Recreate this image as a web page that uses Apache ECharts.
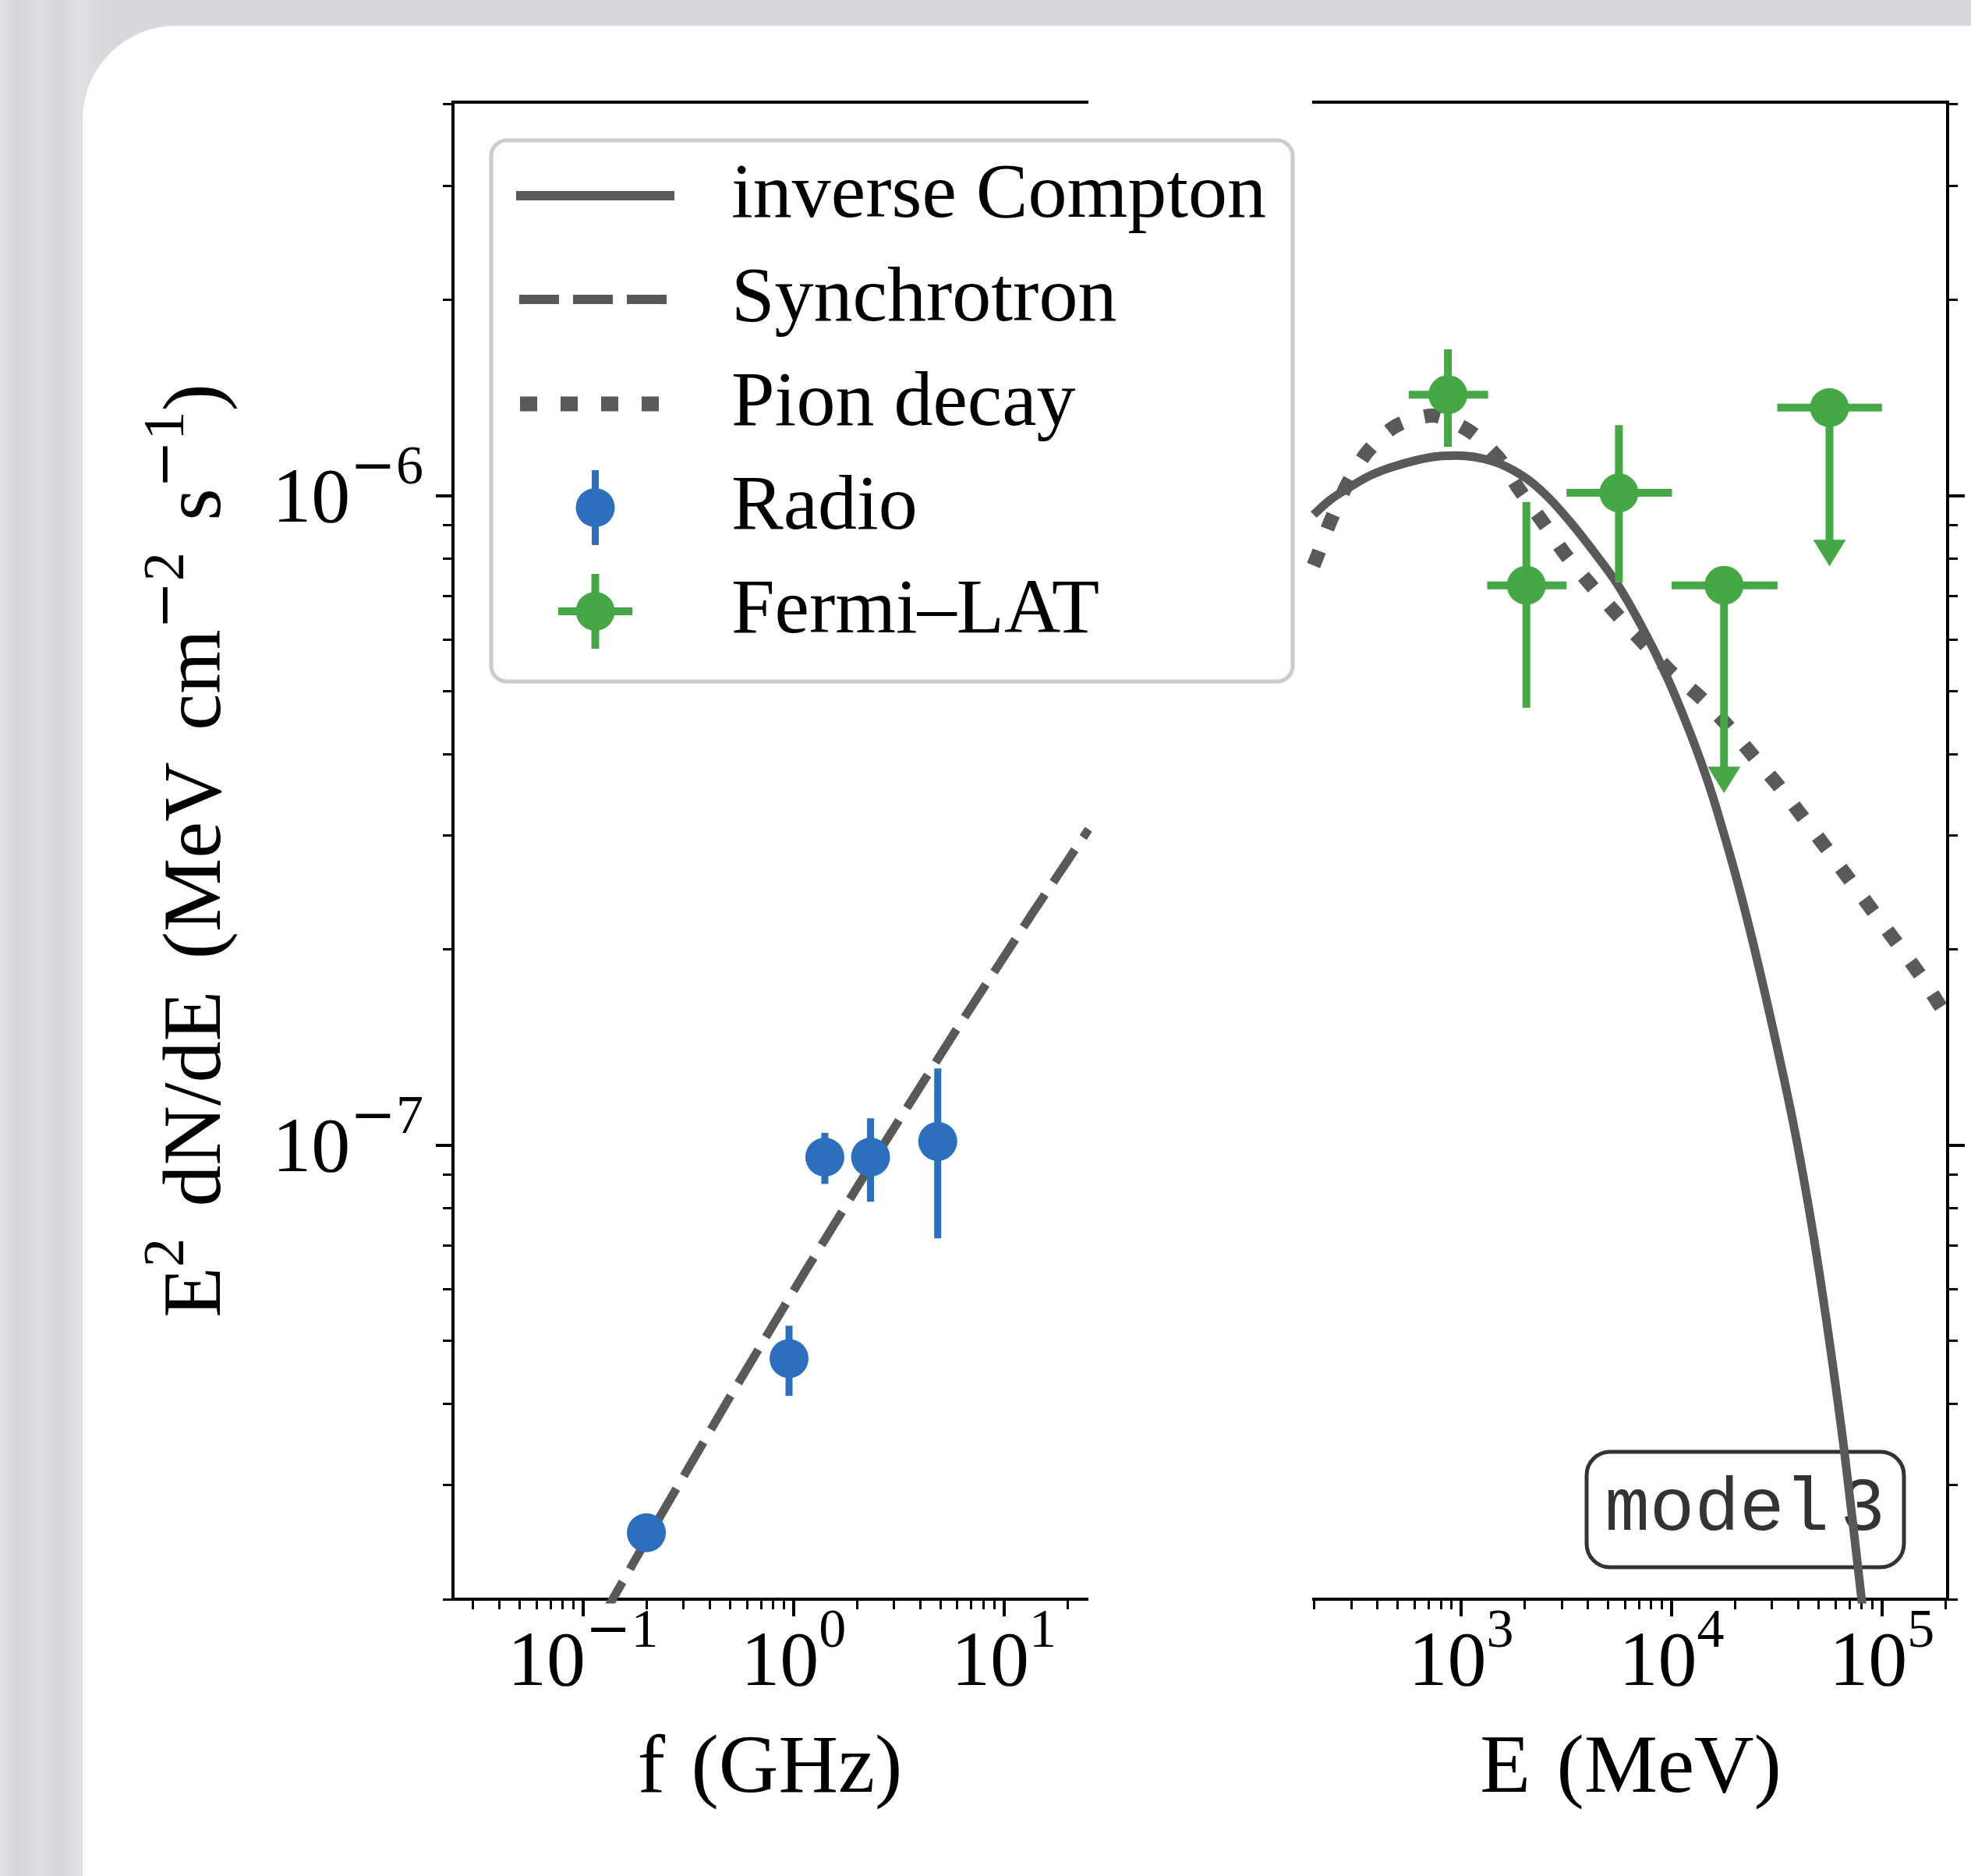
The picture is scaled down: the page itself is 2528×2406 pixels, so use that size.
<!DOCTYPE html>
<html>
<head>
<meta charset="utf-8">
<title>model 3</title>
<script src="https://cdn.jsdelivr.net/npm/echarts@6/dist/echarts.min.js"></script>
<style>
  html, body { margin: 0; padding: 0; width: 2528px; height: 2406px; overflow: hidden; }
  body {
    position: relative;
    background-color: #dadadc;
    background-image: linear-gradient(90deg, #e3e3e5 0px, #d4d4d6 22px, #dfdfe1 48px, #d6d6d8 75px, #e1e1e3 100px, #d8d8da 140px);
  }
  #card { position: absolute; left: 106px; top: 33px; width: 2700px; height: 2600px; background: #ffffff; border-radius: 120px; }
  #main { position: absolute; left: 0; top: 0; width: 2528px; height: 2406px; }
</style>
</head>
<body>
<div id="card"></div>
<div id="main"></div>
<script>
// radio points: frequency (GHz), E^2 dN/dE with error bar ends
var radioFreq = [0.2, 0.953, 1.41, 2.325, 4.85];
var radioFlux = [2.53e-8, 4.69e-8, 9.58e-8, 9.58e-8, 1.013e-7];
var radioFluxLow = [2.47e-8, 4.11e-8, 8.71e-8, 8.18e-8, 7.18e-8];
var radioFluxHigh = [2.59e-8, 5.27e-8, 1.044e-7, 1.099e-7, 1.312e-7];

// Fermi-LAT bins: energy (MeV), bin edges, flux and error ends (last two are upper limits)
var fermiE = [866, 2043, 5623, 17760, 56300];
var fermiELow = [564, 1331, 3170, 10000, 31800];
var fermiEHigh = [1344, 3171, 10050, 31900, 100000];
var fermiFlux = [1.429e-6, 7.27e-7, 1.009e-6, 7.27e-7, 1.365e-6];
var fermiFluxLow = [1.188e-6, 4.71e-7, 7.34e-7, 3.48e-7, 7.78e-7];
var fermiFluxHigh = [1.678e-6, 9.77e-7, 1.283e-6, 7.27e-7, 1.365e-6];
var fermiUpperLimit = [0, 0, 0, 1, 1];

// model curves
var synchFreq = [0.1247, 0.2162, 0.4936, 1.127, 2.575, 5.879, 13.43, 25.28];
var synchFlux = [1.885e-8, 2.574e-8, 4.069e-8, 6.356e-8, 9.81e-8, 1.496e-7, 2.254e-7, 3.062e-7];
var icEnergy = [199.3, 238.3, 288.8, 369.9, 486.8, 715.2, 954.1, 1402, 1950, 2531, 3285, 4267, 5539, 7192, 9466, 11470, 13720, 16180, 21290, 28020, 37910, 47230, 56470, 66580, 80060, 86460];
var icFlux = [9.338e-7, 9.836e-7, 1.0244e-6, 1.0729e-6, 1.1097e-6, 1.1444e-6, 1.1516e-6, 1.1293e-6, 1.0729e-6, 1.0013e-6, 9.12e-7, 8.193e-7, 7.295e-7, 6.297e-7, 5.27e-7, 4.55e-7, 3.909e-7, 3.331e-7, 2.438e-7, 1.692e-7, 1.0788e-7, 7.256e-8, 4.944e-8, 3.326e-8, 1.994e-8, 1.608e-8];
var pionEnergy = [199, 207, 239, 289, 358, 489, 733, 1099, 1500, 1905, 2474, 3141, 4179, 5570, 7413, 9877, 13790, 18820, 24430, 32540, 42260, 54950, 70850, 91600, 118400, 152900, 190500, 206000];
var pionFlux = [7.8e-7, 8.05e-7, 9.11e-7, 1.043e-6, 1.166e-6, 1.279e-6, 1.327e-6, 1.255e-6, 1.144e-6, 1.017e-6, 9.05e-7, 8.10e-7, 7.25e-7, 6.53e-7, 5.91e-7, 5.36e-7, 4.88e-7, 4.39e-7, 3.97e-7, 3.56e-7, 3.19e-7, 2.85e-7, 2.55e-7, 2.28e-7, 2.04e-7, 1.82e-7, 1.63e-7, 1.57e-7];

// ticks
var freqMajor = [0.1, 1, 10];
var freqMinor = [0.03, 0.04, 0.05, 0.06, 0.07, 0.08, 0.09, 0.2, 0.3, 0.4, 0.5, 0.6, 0.7, 0.8, 0.9, 2, 3, 4, 5, 6, 7, 8, 9, 20];
var energyMajor = [1e3, 1e4, 1e5];
var energyMinor = [200, 300, 400, 500, 600, 700, 800, 900, 2000, 3000, 4000, 5000, 6000, 7000, 8000, 9000, 2e4, 3e4, 4e4, 5e4, 6e4, 7e4, 8e4, 9e4, 2e5];
var fluxMajor = [1e-7, 1e-6];
var fluxMinor = [2e-8, 3e-8, 4e-8, 5e-8, 6e-8, 7e-8, 8e-8, 9e-8, 2e-7, 3e-7, 4e-7, 5e-7, 6e-7, 7e-7, 8e-7, 9e-7, 2e-6, 3e-6, 4e-6];

var legendNames = ['inverse Compton', 'Synchrotron', 'Pion decay', 'Radio', 'Fermi\u2013LAT'];

var serif = '"Liberation Serif", "DejaVu Serif", serif';
var wideMinus = '"DejaVu Serif", serif';
var ink = '#000000';
var curveGray = '#595959';
var radioBlue = '#2d6ebd';
var fermiGreen = '#45a745';

var myChart = echarts.init(document.getElementById('main'), null, { renderer: 'canvas' });

// 10^n label as rich text
function powLabel(v) {
  var e = Math.round(Math.log10(v));
  if (e < 0) {
    return '{b|10}{m|\u2212}{s|' + (-e) + '}';
  }
  return '{b|10}{s|' + e + '}';
}

var tickRich = {
  b: { fontFamily: serif, fontSize: 100, color: ink, padding: [26, 0, 0, 0] },
  m: { fontFamily: wideMinus, fontSize: 70, color: ink, verticalAlign: 'top' },
  s: { fontFamily: serif, fontSize: 70, color: ink, verticalAlign: 'top' }
};

function logAxis(o) {
  return {
    type: 'log',
    logBase: 10,
    gridIndex: o.grid,
    position: o.pos,
    min: o.min,
    max: o.max,
    silent: true,
    axisLine: { show: !!o.line, onZero: false, lineStyle: { color: ink, width: 4, cap: 'square' } },
    axisTick: { show: !!o.ticks, inside: false, length: o.len || 22, customValues: o.ticks, lineStyle: { color: ink, width: o.tw || 4 } },
    axisLabel: { show: !!o.labels, customValues: o.labels, margin: o.margin || 8, padding: o.pad || 0, formatter: powLabel, rich: tickRich },
    splitLine: { show: false },
    minorTick: { show: false },
    minorSplitLine: { show: false }
  };
}

var fMin = 0.0241, fMax = 24.8;
var eMin = 199.5, eMax = 2.05e5;
var yMin = 1.999e-8, yMax = 4.03e-6;

// axes: 0-2 for left panel, 3-5 for right panel
var xAxes = [
  logAxis({ grid: 0, pos: 'bottom', min: fMin, max: fMax, line: true, ticks: freqMajor, labels: freqMajor, margin: 8 }),
  logAxis({ grid: 0, pos: 'bottom', min: fMin, max: fMax, ticks: freqMinor, len: 13, tw: 3 }),
  logAxis({ grid: 0, pos: 'top', min: fMin, max: fMax, line: true }),
  logAxis({ grid: 1, pos: 'bottom', min: eMin, max: eMax, line: true, ticks: energyMajor, labels: energyMajor, margin: 8 }),
  logAxis({ grid: 1, pos: 'bottom', min: eMin, max: eMax, ticks: energyMinor, len: 13, tw: 3 }),
  logAxis({ grid: 1, pos: 'top', min: eMin, max: eMax, line: true })
];
var nameRich = {
  n: { fontFamily: serif, fontSize: 106, color: ink },
  g: { fontFamily: serif, fontSize: 106, color: ink, padding: [0, 0, 0, 7] }
};
xAxes[0].name = '{n|f}{g| (GHz)}';
xAxes[3].name = '{n|E}{g| (MeV)}';
[0, 3].forEach(function (i) {
  xAxes[i].nameLocation = 'middle';
  xAxes[i].nameGap = 166;
  xAxes[i].nameMoveOverlap = false;
  xAxes[i].nameTextStyle = { rich: nameRich };
});

var yAxes = [
  logAxis({ grid: 0, pos: 'left', min: yMin, max: yMax, line: true, ticks: fluxMajor, labels: fluxMajor, margin: 38, pad: [0, 0, 12, 0] }),
  logAxis({ grid: 0, pos: 'left', min: yMin, max: yMax, ticks: fluxMinor, len: 13, tw: 3 }),
  logAxis({ grid: 1, pos: 'right', min: yMin, max: yMax, line: true, ticks: fluxMajor }),
  logAxis({ grid: 1, pos: 'right', min: yMin, max: yMax, ticks: fluxMinor, len: 13, tw: 3 })
];
yAxes[0].name = '{t|E}{s|2}{g| dN/dE}{g| (MeV}{g| cm}{m|\u2212}{s|2}{g| s}{m|\u2212}{s|1}{t|)}';
yAxes[0].nameLocation = 'middle';
yAxes[0].nameRotate = 90;
yAxes[0].nameGap = 274;
yAxes[0].nameMoveOverlap = false;
yAxes[0].nameTextStyle = {
  rich: {
    t: { fontFamily: serif, fontSize: 106, color: ink, padding: [22, 0, 0, 0] },
    g: { fontFamily: serif, fontSize: 106, color: ink, padding: [22, 0, 0, 14] },
    m: { fontFamily: wideMinus, fontSize: 74, color: ink, verticalAlign: 'top' },
    s: { fontFamily: serif, fontSize: 74, color: ink, verticalAlign: 'top' }
  }
};

function pairs(xs, ys) {
  return xs.map(function (x, i) { return [x, ys[i]]; });
}

var radioData = radioFreq.map(function (f, i) {
  return [f, radioFlux[i], radioFluxLow[i], radioFluxHigh[i]];
});
var fermiData = fermiE.map(function (e, i) {
  return [e, fermiFlux[i], fermiELow[i], fermiEHigh[i], fermiFluxLow[i], fermiFluxHigh[i], fermiUpperLimit[i]];
});

function drawRadio(params, api) {
  var c = api.coord([api.value(0), api.value(1)]);
  var lo = api.coord([api.value(0), api.value(2)]);
  var hi = api.coord([api.value(0), api.value(3)]);
  return {
    type: 'group',
    children: [
      { type: 'line', shape: { x1: c[0], y1: hi[1], x2: c[0], y2: lo[1] }, style: { stroke: radioBlue, lineWidth: 9 } },
      { type: 'circle', shape: { cx: c[0], cy: c[1], r: 25 }, style: { fill: radioBlue } }
    ]
  };
}

function drawFermi(params, api) {
  var x = api.value(0), y = api.value(1);
  var c = api.coord([x, y]);
  var left = api.coord([api.value(2), y]);
  var right = api.coord([api.value(3), y]);
  var lo = api.coord([x, api.value(4)]);
  var hi = api.coord([x, api.value(5)]);
  var bar = { stroke: fermiGreen, lineWidth: 10 };
  var kids = [
    { type: 'line', shape: { x1: left[0], y1: c[1], x2: right[0], y2: c[1] }, style: bar }
  ];
  if (api.value(6)) {
    // upper limit arrow
    kids.push({ type: 'line', shape: { x1: c[0], y1: c[1], x2: c[0], y2: lo[1] - 30 }, style: bar });
    kids.push({ type: 'polygon', shape: { points: [[c[0] - 21, lo[1] - 34], [c[0] + 21, lo[1] - 34], [c[0], lo[1]]] }, style: { fill: fermiGreen } });
  } else {
    kids.push({ type: 'line', shape: { x1: c[0], y1: hi[1], x2: c[0], y2: lo[1] }, style: bar });
  }
  kids.push({ type: 'circle', shape: { cx: c[0], cy: c[1], r: 25 }, style: { fill: fermiGreen } });
  return { type: 'group', children: kids };
}

// legend drawn by hand, matplotlib style
var legendRows = [251, 384, 518, 651, 784];
var legendGraphic = [
  { type: 'rect', shape: { x: 630, y: 180, width: 1028, height: 694, r: 20 }, style: { fill: 'rgba(255,255,255,0.85)', stroke: '#cccccc', lineWidth: 5 } },
  { type: 'line', shape: { x1: 662, y1: legendRows[0], x2: 865, y2: legendRows[0] }, style: { stroke: curveGray, lineWidth: 12 } },
  { type: 'line', shape: { x1: 666, y1: legendRows[1], x2: 866, y2: legendRows[1] }, style: { stroke: curveGray, lineWidth: 12, lineDash: [51, 18] } },
  { type: 'line', shape: { x1: 667, y1: legendRows[2], x2: 866, y2: legendRows[2] }, style: { stroke: curveGray, lineWidth: 19, lineDash: [22, 30] } },
  { type: 'line', shape: { x1: 763.5, y1: legendRows[3] - 48, x2: 763.5, y2: legendRows[3] + 48 }, style: { stroke: radioBlue, lineWidth: 9 } },
  { type: 'circle', shape: { cx: 763.5, cy: legendRows[3], r: 25 }, style: { fill: radioBlue } },
  { type: 'line', shape: { x1: 716, y1: legendRows[4], x2: 811, y2: legendRows[4] }, style: { stroke: fermiGreen, lineWidth: 10 } },
  { type: 'line', shape: { x1: 763.5, y1: legendRows[4] - 48, x2: 763.5, y2: legendRows[4] + 48 }, style: { stroke: fermiGreen, lineWidth: 10 } },
  { type: 'circle', shape: { cx: 763.5, cy: legendRows[4], r: 25 }, style: { fill: fermiGreen } }
];
legendNames.forEach(function (n, i) {
  legendGraphic.push({
    type: 'text', x: 938, y: legendRows[i] + 1,
    style: { text: n, fontFamily: serif, fontSize: 100, fill: ink, verticalAlign: 'middle', align: 'left' }
  });
});

var option = {
  animation: false,
  backgroundColor: 'transparent',
  grid: [
    { left: 581, top: 131, width: 813, height: 1920, outerBoundsMode: 'none', containLabel: false },
    { left: 1685, top: 131, width: 813, height: 1920, outerBoundsMode: 'none', containLabel: false }
  ],
  xAxis: xAxes,
  yAxis: yAxes,
  series: [
    {
      name: 'Synchrotron', type: 'line', xAxisIndex: 0, yAxisIndex: 0,
      data: pairs(synchFreq, synchFlux), showSymbol: false, symbol: 'none', clip: true, z: 3,
      lineStyle: { color: curveGray, width: 11, type: [50, 19], cap: 'butt' }
    },
    {
      name: 'inverse Compton', type: 'line', xAxisIndex: 3, yAxisIndex: 2,
      data: pairs(icEnergy, icFlux), showSymbol: false, symbol: 'none', clip: true, z: 3,
      smooth: 0.35,
      lineStyle: { color: curveGray, width: 11, join: 'round' }
    },
    {
      name: 'Pion decay', type: 'line', xAxisIndex: 3, yAxisIndex: 2,
      data: pairs(pionEnergy, pionFlux), showSymbol: false, symbol: 'none', clip: true, smooth: 0.25, z: 3,
      lineStyle: { color: curveGray, width: 18, type: [20, 30], cap: 'butt' }
    },
    {
      name: 'Radio', type: 'custom', xAxisIndex: 0, yAxisIndex: 0,
      data: radioData, encode: { x: 0, y: 1 }, renderItem: drawRadio, z: 5,
      itemStyle: { color: radioBlue }
    },
    {
      name: 'Fermi\u2013LAT', type: 'custom', xAxisIndex: 3, yAxisIndex: 2,
      data: fermiData, encode: { x: 0, y: 1 }, renderItem: drawFermi, z: 5,
      itemStyle: { color: fermiGreen }
    }
  ],
  graphic: [
    { type: 'group', z: 50, children: legendGraphic },
    {
      type: 'group', z: 50,
      children: [
        { type: 'rect', shape: { x: 2035, y: 1862, width: 407, height: 148, r: 30 }, style: { fill: 'rgba(255,255,255,0.75)', stroke: '#333333', lineWidth: 5 } },
        {
          type: 'text', x: 2238, y: 1937,
          style: {
            text: '{a|model}{b|3}', align: 'center', verticalAlign: 'middle',
            rich: {
              a: { fontFamily: '"Liberation Mono", "DejaVu Sans Mono", monospace', fontSize: 96, fill: '#333333' },
              b: { fontFamily: '"Liberation Mono", "DejaVu Sans Mono", monospace', fontSize: 96, fill: '#333333', padding: [0, 0, 0, 14] }
            }
          }
        }
      ]
    }
  ]
};

myChart.setOption(option);
</script>
</body>
</html>
